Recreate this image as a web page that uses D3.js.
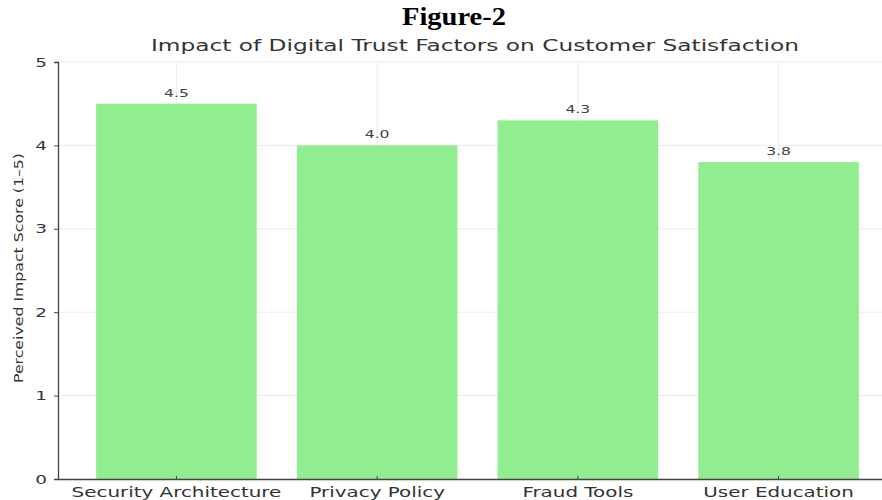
<!DOCTYPE html>
<html>
<head>
<meta charset="utf-8">
<script src="https://cdn.jsdelivr.net/npm/d3@7"></script>
<style>
  html, body { margin: 0; padding: 0; background: #fff; }
  svg { display: block; }
</style>
</head>
<body>
<svg id="chart" width="882" height="500"></svg>
<script>
// Data
const categories = ["Security Architecture", "Privacy Policy", "Fraud Tools", "User Education"];
const scores = [4.5, 4.0, 4.3, 3.8];
const yTicks = [0, 1, 2, 3, 4, 5];

const svg = d3.select("#chart");
const W = 882, H = 500;
const plot = { left: 58, right: 897, top: 62, bottom: 479 };
const FONT = "DejaVu Sans, sans-serif";
const WIDEN = 1.42; // horizontal widening applied to the chart's text

// Widen text horizontally around its anchor by setting an explicit length
function widen(sel, factor) {
  sel.each(function () {
    const len = this.getComputedTextLength();
    d3.select(this)
      .attr("textLength", len * factor)
      .attr("lengthAdjust", "spacingAndGlyphs");
  });
}

const x = d3.scaleBand()
  .domain(categories)
  .range([plot.left, plot.right])
  .paddingInner(0.2)
  .paddingOuter(0.19);

const y = d3.scaleLinear().domain([0, 5]).range([plot.bottom, plot.top]);

// Faint grid
const grid = svg.append("g");
grid.selectAll("line.h").data(yTicks).join("line")
  .attr("x1", plot.left).attr("x2", W)
  .attr("y1", d => y(d)).attr("y2", d => y(d))
  .attr("stroke", "#ececec").attr("stroke-width", 1);
grid.selectAll("line.v").data(categories).join("line")
  .attr("x1", d => x(d) + x.bandwidth() / 2).attr("x2", d => x(d) + x.bandwidth() / 2)
  .attr("y1", plot.top).attr("y2", plot.bottom)
  .attr("stroke", "#ececec").attr("stroke-width", 1);

// Bars
svg.append("g").selectAll("rect").data(categories).join("rect")
  .attr("x", d => x(d))
  .attr("width", x.bandwidth())
  .attr("y", (d, i) => y(scores[i]))
  .attr("height", (d, i) => y(0) - y(scores[i]))
  .attr("fill", "#90ee90");

// Value labels
svg.append("g").selectAll("text").data(categories).join("text")
  .attr("x", d => x(d) + x.bandwidth() / 2)
  .attr("y", (d, i) => y(scores[i]) - 7)
  .attr("text-anchor", "middle")
  .attr("font-family", FONT)
  .attr("font-size", 11)
  .attr("fill", "#444")
  .text((d, i) => scores[i].toFixed(1))
  .call(widen, WIDEN);

// Y axis
const yAxis = svg.append("g")
  .attr("transform", `translate(${plot.left},0)`)
  .call(d3.axisLeft(y).tickValues(yTicks).tickFormat(d3.format("d")).tickSize(4).tickPadding(7));
yAxis.select(".domain").attr("stroke", "#444").attr("stroke-width", 1.3);
yAxis.selectAll(".tick line").attr("stroke", "#444");
yAxis.selectAll(".tick text")
  .attr("font-family", FONT)
  .attr("font-size", 13).attr("fill", "#333")
  .call(widen, WIDEN);

// X axis
const xAxis = svg.append("g")
  .attr("transform", `translate(0,${plot.bottom})`)
  .call(d3.axisBottom(x).tickSize(4).tickPadding(4).tickSizeOuter(0));
xAxis.select(".domain").attr("stroke", "#444").attr("stroke-width", 1.3);
xAxis.selectAll(".tick line").attr("stroke", "#444").attr("y2", -3);
xAxis.selectAll(".tick text")
  .attr("font-family", FONT)
  .attr("font-size", 14).attr("fill", "#333")
  .call(widen, WIDEN);

// Y axis title
svg.append("text")
  .attr("transform", `translate(23,268) rotate(-90)`)
  .attr("text-anchor", "middle")
  .attr("font-family", FONT)
  .attr("font-size", 12)
  .attr("fill", "#333")
  .text("Perceived Impact Score (1–5)")
  .attr("textLength", 230)
  .attr("lengthAdjust", "spacingAndGlyphs");

// Titles
svg.append("text")
  .attr("x", 454).attr("y", 25)
  .attr("text-anchor", "middle")
  .attr("font-family", "Liberation Serif, Times New Roman, serif")
  .attr("font-weight", "bold")
  .attr("font-size", 25)
  .attr("fill", "#000")
  .text("Figure-2")
  .attr("textLength", 104)
  .attr("lengthAdjust", "spacingAndGlyphs");

svg.append("text")
  .attr("x", 475).attr("y", 51)
  .attr("text-anchor", "middle")
  .attr("font-family", FONT)
  .attr("font-size", 16)
  .attr("fill", "#333")
  .text("Impact of Digital Trust Factors on Customer Satisfaction")
  .attr("textLength", 648)
  .attr("lengthAdjust", "spacingAndGlyphs");
</script>
</body>
</html>
